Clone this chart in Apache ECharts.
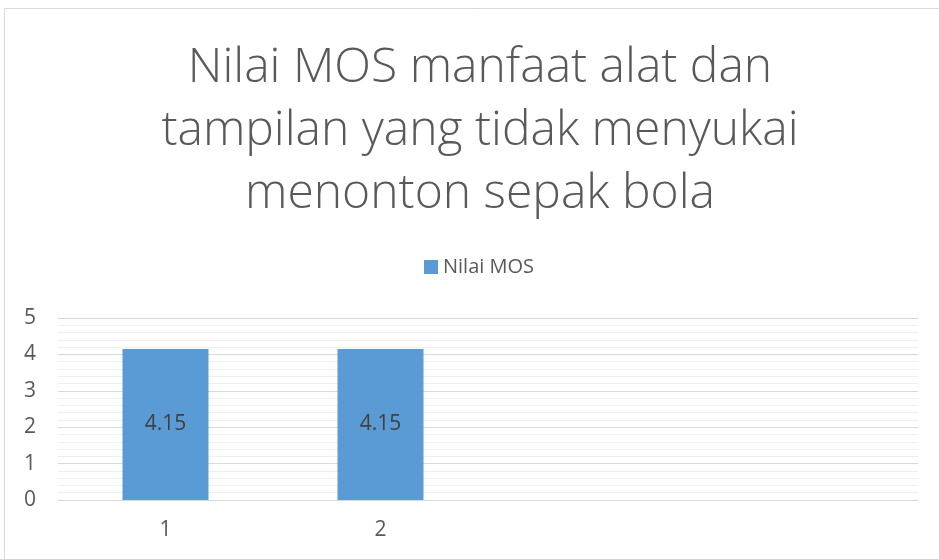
<!DOCTYPE html>
<html>
<head>
<meta charset="utf-8">
<script src="https://cdn.jsdelivr.net/npm/echarts@6/dist/echarts.min.js"></script>
<style>
html, body { margin: 0; padding: 0; background: #fff; }
#chart { width: 939px; height: 559px; }
</style>
</head>
<body>
<div id="chart"></div>
<script>
// data
const categories = ['1', '2', '', ''];
const mosValues = [4.15, 4.15, null, null];
const seriesName = 'Nilai MOS';
const titleText = 'Nilai MOS manfaat alat dan\ntampilan yang tidak menyukai\nmenonton sepak bola';

const chart = echarts.init(document.getElementById('chart'));
chart.setOption({
    animation: false,
    textStyle: { fontFamily: 'Open Sans' },
    graphic: [{
        type: 'rect',
        shape: { x: 4.5, y: 8.5, width: 1000, height: 700 },
        style: { fill: 'none', stroke: '#d9d9d9', lineWidth: 1 },
        silent: true
    }],
    title: {
        text: titleText,
        left: 475,
        textAlign: 'center',
        top: 32,
        textStyle: {
            fontSize: 48,
            fontWeight: 300,
            color: '#595959',
            lineHeight: 63,
            fontFamily: 'Open Sans'
        }
    },
    legend: {
        top: 252,
        left: 419,
        itemWidth: 14,
        itemHeight: 14,
        icon: 'rect',
        itemGap: 6,
        textStyle: { fontSize: 20, color: '#595959' },
        data: [seriesName]
    },
    grid: {
        left: 58,
        right: 21,
        top: 318,
        bottom: 59
    },
    xAxis: {
        type: 'category',
        data: categories,
        axisTick: { show: false },
        axisLine: { show: true, lineStyle: { color: '#d9d9d9', width: 1 } },
        axisLabel: { fontSize: 21, color: '#595959', margin: 20 }
    },
    yAxis: {
        type: 'value',
        min: 0,
        max: 5,
        interval: 1,
        axisLine: { show: false },
        axisTick: { show: false },
        axisLabel: { fontSize: 21, color: '#595959', margin: 22 },
        splitLine: { lineStyle: { color: '#d9d9d9', width: 1 } },
        minorTick: { show: false, splitNumber: 5 },
        minorSplitLine: { show: true, lineStyle: { color: '#efefef', width: 1 } }
    },
    series: [{
        name: seriesName,
        type: 'bar',
        data: mosValues,
        barWidth: '40%',
        itemStyle: { color: '#5b9bd5' },
        label: {
            show: true,
            position: 'inside',
            fontSize: 21,
            color: '#404040'
        }
    }]
});
</script>
</body>
</html>
